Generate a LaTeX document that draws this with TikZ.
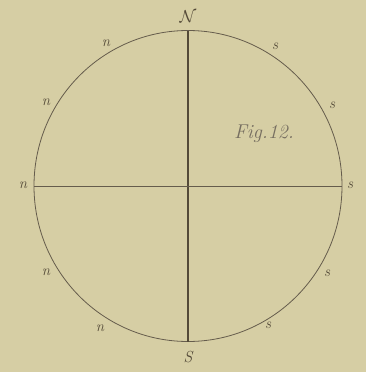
\documentclass[tikz,border=0pt]{standalone}
\usepackage{fontspec}
\begin{document}
\definecolor{paper}{RGB}{214,206,164}
\definecolor{ink}{RGB}{84,74,56}
\tikzset{
  lbl/.style={text=ink, font=\fontsize{15}{17}\selectfont\itshape, inner sep=0pt},
  big/.style={text=ink, font=\fontsize{16}{18}\selectfont\itshape, inner sep=0pt},
  figlbl/.style={text=ink!80, font=\fontsize{20}{22}\selectfont\itshape, inner sep=0pt},
  rule/.style={draw=ink!90, line width=0.8pt},
  thick rule/.style={draw=ink, line width=1.3pt}
}
\begin{tikzpicture}[x=1pt,y=-1pt]
\fill[paper] (0,0) rectangle (366,372);
\useasboundingbox (0,0) rectangle (366,372);
\coordinate (c) at (188,186);
\coordinate (top) at (188,31);
\coordinate (bot) at (188,342);
\coordinate (lft) at (34,186);
\coordinate (rgt) at (342,186);
\draw[rule] (c) ellipse [x radius=154, y radius=155.5];
\draw[thick rule] (top) -- (bot);
\draw[rule] (lft) -- (rgt);
\node[big] (N) at (188,17) {$\mathcal{N}$};
\node[big] (S) at (188,357) {S};
\node[lbl] (n1) at (106,43) {n};
\node[lbl] (n2) at (46,102) {n};
\node[lbl] (n3) at (23,185) {n};
\node[lbl] (n4) at (46,272) {n};
\node[lbl] (n5) at (100,328) {n};
\node[lbl] (s1) at (275,46) {s};
\node[lbl] (s2) at (332,105) {s};
\node[lbl] (s3) at (350,185) {s};
\node[lbl] (s4) at (327,273) {s};
\node[lbl] (s5) at (268,325) {s};
\node[figlbl] (fig) at (264,134) {Fig.12.};
\end{tikzpicture}
\end{document}
